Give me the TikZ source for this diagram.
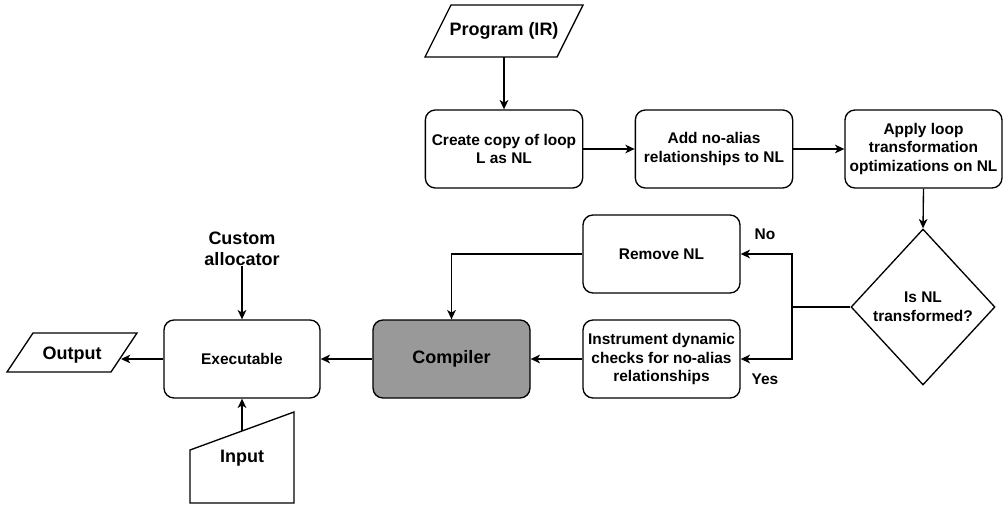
\documentclass[tikz,border=0pt]{standalone}
\usepackage{fontspec}
\setmainfont{Liberation Sans}
\usetikzlibrary{arrows.meta,shapes.geometric,calc}
\definecolor{compgray}{RGB}{153,153,153}
\begin{document}
\begin{tikzpicture}[x=0.75pt,y=-0.75pt,
  small/.style={font=\fontsize{11.6}{14.2}\selectfont\bfseries, align=center},
  big/.style={font=\fontsize{13.5}{15.75}\selectfont\bfseries, align=center},
  proc/.style={draw, line width=1pt, rounded corners=7.5pt, minimum width=118pt, minimum height=58.5pt, inner sep=0pt},
  shp/.style={draw, line width=1pt, line join=miter},
  arr/.style={-{Stealth[length=7pt,width=6.5pt,inset=2pt]}, line width=1pt},
]
\useasboundingbox (0,0) rectangle (1003,506);

% Program (IR)
\draw[shp] (451,5) -- (583,5) -- (557,57) -- (425,57) -- cycle;
\node[big, minimum width=99pt, minimum height=39pt, inner sep=0pt] (prog) at (504,31) {Program (IR)};

% top row
\node[proc, small] (b1) at (504,149) {Create copy of loop\\L as NL};
\node[proc, small] (b2) at (714,149) {Add no-alias\\relationships to NL};
\node[proc, small, minimum width=117.75pt] (b3) at (923.5,149) {Apply loop\\transformation\\optimizations on NL};

% decision
\node[diamond, draw, line width=1pt, minimum width=108pt, minimum height=117pt, inner sep=0pt, small] (dia) at (923,307) {Is NL\\transformed?};

% middle column
\node[proc, small, minimum width=117.75pt] (rem) at (661.5,254) {Remove NL};
\node[proc, small, minimum width=117.75pt] (ins) at (661.5,359) {Instrument dynamic\\checks for no-alias\\relationships};
\node[small] (no) at (765,234) {No};
\node[small] (yes) at (765,379) {Yes};

% compiler and executable
\node[proc, big, fill=compgray, minimum width=117.75pt] (comp) at (451.5,359) {Compiler};
\node[proc, small, minimum width=117pt] (exe) at (242,359) {Executable};

% custom allocator
\node[big, inner sep=0pt, anchor=south] (alloc) at (242,266) {Custom\\allocator};

% Output
\draw[shp] (33,333) -- (137,333) -- (111,372) -- (7,372) -- cycle;
\node[big] (out) at (72,355) {Output};
\coordinate (outR) at (121,359);

% Input
\draw[shp] (190,450) -- (294,412) -- (294,503) -- (190,503) -- cycle;
\node[big] (inp) at (242,458) {Input};
\coordinate (inTop) at (242,431);

% connectors
\draw[arr] (prog.south) -- (b1.north);
\draw[arr] (b1.east) -- (b2.west);
\draw[arr] (b2.east) -- (b3.west);
\draw[arr] (b3.south) -- (dia.north);
\coordinate (split) at (792,307);
\draw[line width=1pt] (dia.west) -- (split);
\draw[arr] (split) |- (rem.east);
\draw[arr] (split) |- (ins.east);
\draw[arr] (rem.west) -| (comp.north);
\draw[arr] (ins.west) -- (comp.east);
\draw[arr] (comp.west) -- (exe.east);
\draw[arr] (exe.west) -- (outR);
\draw[arr] (alloc.south) -- (exe.north);
\draw[arr] (inTop) -- (exe.south);
\end{tikzpicture}
\end{document}
